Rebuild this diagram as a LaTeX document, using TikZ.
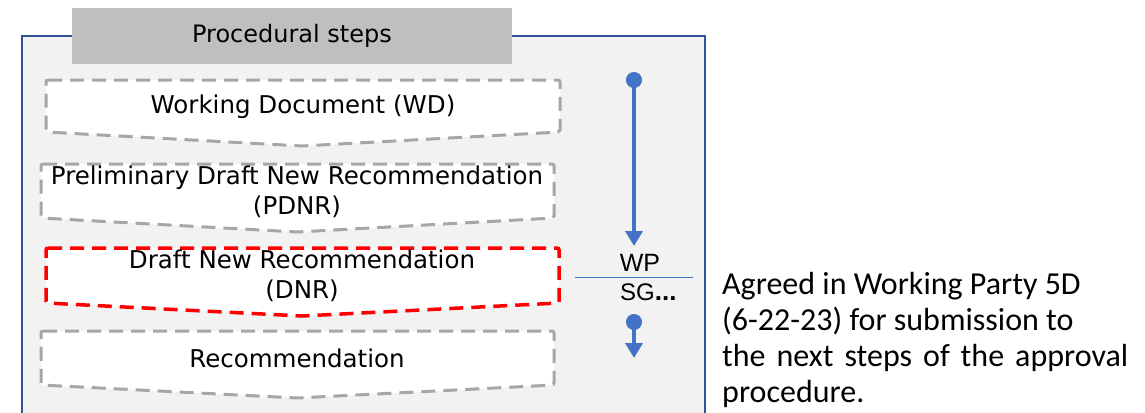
\documentclass[tikz,border=0pt]{standalone}
\usepackage{fontspec}
\setmainfont{DejaVu Sans}
\newfontfamily\arialf{Liberation Sans}
\newfontfamily\calf{Carlito}
\usetikzlibrary{arrows.meta}
\definecolor{panelbg}{HTML}{F2F2F2}
\definecolor{panelline}{HTML}{2F5597}
\definecolor{titlegray}{HTML}{BFBFBF}
\definecolor{dashgray}{HTML}{A6A6A6}
\definecolor{arrblue}{HTML}{4472C4}
\tikzset{
  stepshape/.style={fill=white, draw=dashgray, line width=3pt, dash pattern=on 14pt off 8pt, rounded corners=2pt},
  redshape/.style={fill=white, draw=red, line width=3.5pt, dash pattern=on 14pt off 8pt, rounded corners=2pt},
  boxtext/.style={font=\fontsize{24.5}{30}\selectfont, align=center, inner sep=0pt},
  flowarrow/.style={draw=arrblue, line width=4pt, {Circle[length=16pt,width=16pt]}-{Triangle[length=15pt,width=17pt]}},
}
\begin{document}
\begin{tikzpicture}[x=1pt,y=-1pt]
\useasboundingbox (0,0) rectangle (1145,412);
\clip (0,0) rectangle (1145,412);
% panel
\draw[fill=panelbg, draw=panelline, line width=2pt] (22,36) rectangle (705,440);
% title
\node[fill=titlegray, minimum width=440pt, minimum height=56pt, inner sep=0pt, font=\fontsize{24}{28}\selectfont] (title) at (292,36) {Procedural steps};
% step shapes
\draw[stepshape] (46,80) -- (560,80) -- (560,132) -- (302,146) -- (46,132) -- cycle;
\node[boxtext] (wd) at (303,107) {Working Document (WD)};
\draw[stepshape] (41,164) -- (554,164) -- (554,218) -- (297,232) -- (41,218) -- cycle;
\node[boxtext] (pdnr) at (297,192) {Preliminary Draft New Recommendation\\(PDNR)};
\draw[redshape] (46,248) -- (559,248) -- (559,303) -- (302,316) -- (46,303) -- cycle;
\node[boxtext] (dnr) at (302,276) {Draft New Recommendation\\(DNR)};
\draw[stepshape] (41,331) -- (554,331) -- (554,385) -- (297,398) -- (41,385) -- cycle;
\node[boxtext] (rec) at (297,358) {Recommendation};
% arrows
\coordinate (a1s) at (634,72);
\coordinate (a1e) at (634,246);
\draw[flowarrow] (a1s) -- (a1e);
\node[font=\arialf\fontsize{25}{28}\selectfont, inner sep=0pt] (wp) at (640,263) {WP};
\coordinate (ls) at (575,277);
\coordinate (le) at (693,277);
\draw[draw=arrblue, line width=1pt] (ls) -- (le);
\node[font=\arialf\fontsize{24}{26}\selectfont, inner sep=0pt, anchor=west] (sg) at (620,292) {SG\textbf{\fontsize{26}{26}\selectfont...}};
\coordinate (a2s) at (634,314);
\coordinate (a2e) at (634,358);
\draw[flowarrow] (a2s) -- (a2e);
% right note
\node[font=\calf\fontsize{32}{36}\selectfont, align=left, anchor=north west, inner sep=0pt] (note) at (722,272)
 {Agreed in Working Party 5D\\(6-22-23) for submission to\\\makebox[406pt][s]{the next steps of the approval}\\procedure.};
\end{tikzpicture}
\end{document}
